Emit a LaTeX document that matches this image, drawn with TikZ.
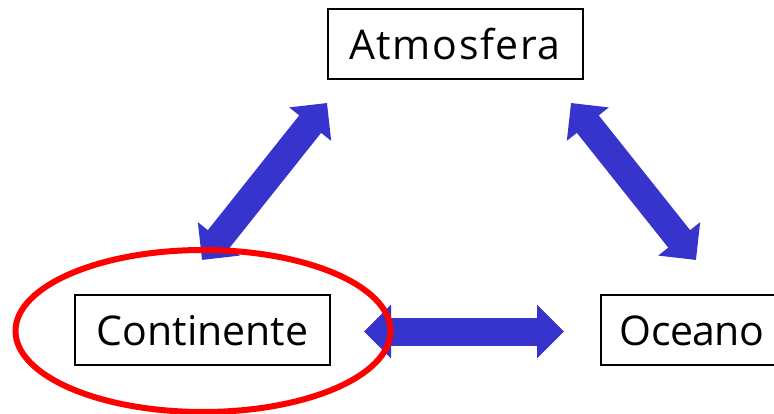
\documentclass[tikz,border=0pt]{standalone}
\usepackage{fontspec}
\setmainfont{Open Sans}
\usetikzlibrary{arrows.meta,shapes.geometric}
\definecolor{arrowblue}{RGB}{54,52,204}
\tikzset{
  box/.style={draw=black,line width=2pt,rectangle,inner sep=0pt,outer sep=0pt,minimum height=70pt,
    text height=31pt,text depth=0pt,font=\fontsize{41}{41}\selectfont},
  flow/.style={draw=arrowblue,line width=28pt,
    {Triangle[length=27pt,width=52pt,fill=arrowblue]}-{Triangle[length=27pt,width=52pt,fill=arrowblue]}},
  halo/.style={ellipse,draw=red,line width=6pt,inner sep=0pt,outer sep=0pt,minimum width=375pt,minimum height=162pt}
}
\begin{document}
\begin{tikzpicture}[x=1pt,y=-1pt]
\useasboundingbox (0,0) rectangle (774,414);
\clip (0,0) rectangle (774,414);
\fill[white] (0,0) rectangle (774,414);
\node[box,minimum width=255pt] (atm) at (455,44.5) {\addfontfeature{LetterSpace=4}Atmosfera};
\node[box,minimum width=255pt] (con) at (202.5,329.5) {Continente};
\node[box,minimum width=183pt] (oce) at (692,329.5) {\addfontfeature{LetterSpace=-1.5}Oceano};
\coordinate (a1) at (327,103);
\coordinate (c1) at (202,260);
\coordinate (a2) at (571,103);
\coordinate (o1) at (696,260);
\coordinate (c2) at (364,331.5);
\coordinate (o2) at (564,331.5);
\draw[flow] (c1) -- (a1);
\draw[flow] (a2) -- (o1);
\draw[flow] (c2) -- (o2);
\node[halo] (ring) at (203,331) {};
\end{tikzpicture}
\end{document}
